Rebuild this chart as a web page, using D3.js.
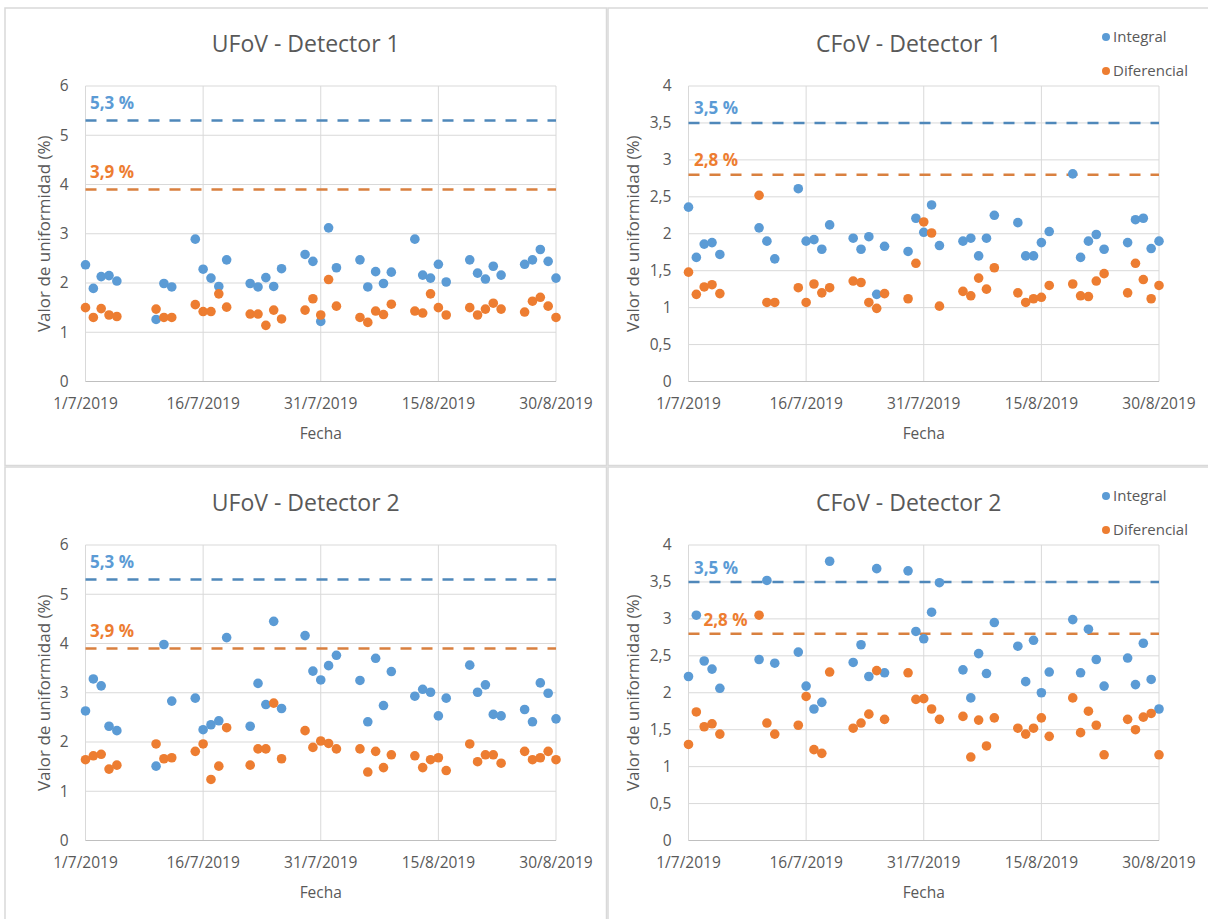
<!DOCTYPE html>
<html>
<head>
<meta charset="utf-8">
<script src="https://cdn.jsdelivr.net/npm/d3@7"></script>
<style>
    body { margin: 0; background: #fff; }
    svg { display: block; font-family: "Open Sans", sans-serif; }
    .chart-title { font-size: 23px; fill: #595959; }
    .tick-label { font-size: 15.5px; fill: #595959; }
    .axis-label { font-size: 15.5px; fill: #595959; }
    .y-label { font-size: 17px; }
    .legend-label { font-size: 15px; fill: #595959; }
    .limit-label { font-size: 17px; font-weight: 700; }
</style>
</head>
<body>
<svg id="chart" width="1208" height="919"></svg>
<script>
// ======================
// DATA
// ======================

const measureDates = [
    "1/7/2019", "2/7/2019", "3/7/2019", "4/7/2019", "5/7/2019",
    "10/7/2019", "11/7/2019", "12/7/2019",
    "15/7/2019", "16/7/2019", "17/7/2019", "18/7/2019", "19/7/2019",
    "22/7/2019", "23/7/2019", "24/7/2019", "25/7/2019", "26/7/2019",
    "29/7/2019", "30/7/2019", "31/7/2019", "1/8/2019", "2/8/2019",
    "5/8/2019", "6/8/2019", "7/8/2019", "8/8/2019", "9/8/2019",
    "12/8/2019", "13/8/2019", "14/8/2019", "15/8/2019", "16/8/2019",
    "19/8/2019", "20/8/2019", "21/8/2019", "22/8/2019", "23/8/2019",
    "26/8/2019", "27/8/2019", "28/8/2019", "29/8/2019", "30/8/2019"
];

const dateTicks = ["1/7/2019", "16/7/2019", "31/7/2019", "15/8/2019", "30/8/2019"];

const seriesNames = ["Integral", "Diferencial"];

// UFoV limits: integral, diferencial
const ufovLimits = [5.3, 3.9];
// CFoV limits: integral, diferencial
const cfovLimits = [3.5, 2.8];

const ufovD1Integral = [
    2.37, 1.89, 2.13, 2.15, 2.04,
    1.26, 1.99, 1.92,
    2.89, 2.28, 2.10, 1.93, 2.47,
    1.99, 1.92, 2.11, 1.93, 2.29,
    2.58, 2.44, 1.22, 3.12, 2.31,
    2.47, 1.92, 2.23, 1.99, 2.22,
    2.89, 2.16, 2.10, 2.38, 2.02,
    2.47, 2.20, 2.08, 2.34, 2.16,
    2.38, 2.47, 2.68, 2.44, 2.10
];
const ufovD1Diferencial = [
    1.50, 1.30, 1.48, 1.35, 1.32,
    1.47, 1.30, 1.30,
    1.56, 1.42, 1.42, 1.78, 1.51,
    1.37, 1.37, 1.14, 1.45, 1.27,
    1.45, 1.68, 1.35, 2.07, 1.53,
    1.30, 1.20, 1.43, 1.36, 1.57,
    1.43, 1.39, 1.78, 1.50, 1.35,
    1.50, 1.35, 1.47, 1.59, 1.47,
    1.41, 1.63, 1.71, 1.53, 1.30
];

const cfovD1Integral = [
    2.36, 1.68, 1.86, 1.88, 1.72,
    2.08, 1.90, 1.66,
    2.61, 1.90, 1.92, 1.79, 2.12,
    1.94, 1.79, 1.96, 1.18, 1.83,
    1.76, 2.21, 2.02, 2.39, 1.84,
    1.90, 1.94, 1.70, 1.94, 2.25,
    2.15, 1.70, 1.70, 1.88, 2.03,
    2.81, 1.68, 1.90, 1.99, 1.79,
    1.88, 2.19, 2.21, 1.80, 1.90
];
const cfovD1Diferencial = [
    1.48, 1.18, 1.28, 1.31, 1.19,
    2.52, 1.07, 1.07,
    1.27, 1.07, 1.32, 1.20, 1.27,
    1.36, 1.34, 1.07, 0.99, 1.19,
    1.12, 1.60, 2.16, 2.01, 1.02,
    1.22, 1.16, 1.40, 1.25, 1.54,
    1.20, 1.07, 1.12, 1.14, 1.30,
    1.32, 1.16, 1.15, 1.36, 1.46,
    1.20, 1.60, 1.38, 1.12, 1.30
];

const ufovD2Integral = [
    2.63, 3.28, 3.14, 2.32, 2.23,
    1.51, 3.98, 2.83,
    2.89, 2.25, 2.35, 2.43, 4.12,
    2.32, 3.19, 2.76, 4.45, 2.68,
    4.16, 3.44, 3.26, 3.55, 3.76,
    3.25, 2.41, 3.70, 2.74, 3.43,
    2.93, 3.07, 3.01, 2.53, 2.89,
    3.56, 3.01, 3.16, 2.56, 2.53,
    2.66, 2.41, 3.20, 2.99, 2.47
];
const ufovD2Diferencial = [
    1.64, 1.72, 1.75, 1.45, 1.53,
    1.96, 1.66, 1.68,
    1.81, 1.96, 1.24, 1.51, 2.29,
    1.53, 1.86, 1.86, 2.79, 1.66,
    2.23, 1.89, 2.02, 1.97, 1.86,
    1.86, 1.39, 1.81, 1.48, 1.74,
    1.72, 1.48, 1.64, 1.68, 1.42,
    1.96, 1.60, 1.74, 1.74, 1.57,
    1.81, 1.64, 1.68, 1.81, 1.64
];

const cfovD2Integral = [
    2.22, 3.05, 2.43, 2.32, 2.06,
    2.45, 3.52, 2.40,
    2.55, 2.09, 1.78, 1.87, 3.78,
    2.41, 2.65, 2.22, 3.68, 2.27,
    3.65, 2.83, 2.73, 3.09, 3.49,
    2.31, 1.93, 2.53, 2.26, 2.95,
    2.63, 2.15, 2.71, 2.00, 2.28,
    2.99, 2.27, 2.86, 2.45, 2.09,
    2.47, 2.11, 2.67, 2.18, 1.78
];
const cfovD2Diferencial = [
    1.30, 1.74, 1.54, 1.58, 1.44,
    3.05, 1.59, 1.44,
    1.56, 1.95, 1.23, 1.18, 2.28,
    1.52, 1.59, 1.71, 2.30, 1.64,
    2.27, 1.91, 1.92, 1.78, 1.64,
    1.68, 1.13, 1.63, 1.28, 1.66,
    1.52, 1.44, 1.52, 1.66, 1.41,
    1.93, 1.46, 1.75, 1.56, 1.16,
    1.64, 1.50, 1.67, 1.72, 1.16
];

// ======================
// SETUP
// ======================

const colors = ["#5B9BD5", "#ED7D31"];
const limitColors = ["#4f88ba", "#d9803f"];

const parseDate = d3.utcParse("%d/%m/%Y");
const formatDate = d3.utcFormat("%-d/%-m/%Y");
const formatValue = v => String(v).replace(".", ",");

const svg = d3.select("#chart");

// chart boxes, plot area offsets inside each box
const plotMargin = { left: 80.5, right: 50.5, top: 78, bottom: 84 };
const boxW = 601.5;
const boxH = 457.5;

const panels = [
    { title: "UFoV - Detector 1", x0: 5, y0: 8, yMax: 6, yStep: 1,
      values: [ufovD1Integral, ufovD1Diferencial], limits: ufovLimits,
      labelDx: [4.5, 4.5], labelDy: -11.5, yTitleDx: -41, legend: false },
    { title: "CFoV - Detector 1", x0: 608, y0: 8, yMax: 4, yStep: 0.5,
      values: [cfovD1Integral, cfovD1Diferencial], limits: cfovLimits,
      labelDx: [5.5, 5.5], labelDy: -8.5, yTitleDx: -55, legend: true },
    { title: "UFoV - Detector 2", x0: 5, y0: 467, yMax: 6, yStep: 1,
      values: [ufovD2Integral, ufovD2Diferencial], limits: ufovLimits,
      labelDx: [4.5, 4.5], labelDy: -11.5, yTitleDx: -41, legend: false },
    { title: "CFoV - Detector 2", x0: 608, y0: 467, yMax: 4, yStep: 0.5,
      values: [cfovD2Integral, cfovD2Diferencial], limits: cfovLimits,
      labelDx: [5.5, 15], labelDy: -7.5, yTitleDx: -55, legend: true }
];

// ======================
// DRAW PANELS
// ======================

panels.forEach(p => {
    const g = svg.append("g")
        .attr("transform", `translate(${p.x0},${p.y0})`);

    // chart border
    g.append("rect")
        .attr("x", 0)
        .attr("y", 0)
        .attr("width", boxW)
        .attr("height", boxH)
        .attr("fill", "#fff")
        .attr("stroke", "#d9d9d9")
        .attr("stroke-width", 1.5);

    g.append("text")
        .attr("class", "chart-title")
        .attr("x", boxW / 2)
        .attr("y", 43.5)
        .attr("text-anchor", "middle")
        .text(p.title);

    const innerW = boxW - plotMargin.left - plotMargin.right;
    const innerH = boxH - plotMargin.top - plotMargin.bottom;

    const plot = g.append("g")
        .attr("transform", `translate(${plotMargin.left},${plotMargin.top})`);

    const x = d3.scaleUtc()
        .domain([parseDate(dateTicks[0]), parseDate(dateTicks[dateTicks.length - 1])])
        .range([0, innerW]);

    const y = d3.scaleLinear()
        .domain([0, p.yMax])
        .range([innerH, 0]);

    const yTicks = d3.range(0, p.yMax + p.yStep / 2, p.yStep);
    const xTicks = dateTicks.map(parseDate);

    // gridlines
    plot.append("g")
        .selectAll("line")
        .data(yTicks.slice(1))
        .join("line")
        .attr("x1", 0)
        .attr("x2", innerW)
        .attr("y1", d => y(d))
        .attr("y2", d => y(d))
        .attr("stroke", "#d9d9d9")
        .attr("stroke-width", 1);

    plot.append("g")
        .selectAll("line")
        .data(xTicks)
        .join("line")
        .attr("x1", d => x(d))
        .attr("x2", d => x(d))
        .attr("y1", 0)
        .attr("y2", innerH)
        .attr("stroke", "#d9d9d9")
        .attr("stroke-width", 1);

    // x axis line
    plot.append("line")
        .attr("x1", 0)
        .attr("x2", innerW)
        .attr("y1", innerH)
        .attr("y2", innerH)
        .attr("stroke", "#bfbfbf")
        .attr("stroke-width", 1);

    // tick labels
    plot.append("g")
        .selectAll("text")
        .data(yTicks)
        .join("text")
        .attr("class", "tick-label")
        .attr("x", -17)
        .attr("y", d => y(d))
        .attr("dy", "0.35em")
        .attr("text-anchor", "end")
        .text(formatValue);

    plot.append("g")
        .selectAll("text")
        .data(xTicks)
        .join("text")
        .attr("class", "tick-label")
        .attr("x", d => x(d))
        .attr("y", innerH + 27)
        .attr("text-anchor", "middle")
        .text(formatDate);

    plot.append("text")
        .attr("class", "axis-label")
        .attr("x", innerW / 2)
        .attr("y", innerH + 57)
        .attr("text-anchor", "middle")
        .text("Fecha");

    plot.append("text")
        .attr("class", "axis-label y-label")
        .attr("transform", "rotate(-90)")
        .attr("x", -innerH / 2)
        .attr("y", p.yTitleDx)
        .attr("dy", "0.35em")
        .attr("text-anchor", "middle")
        .text("Valor de uniformidad (%)");

    // limit lines
    plot.append("g")
        .selectAll("line")
        .data(p.limits)
        .join("line")
        .attr("x1", 0)
        .attr("x2", innerW)
        .attr("y1", d => y(d))
        .attr("y2", d => y(d))
        .attr("stroke", (d, i) => limitColors[i])
        .attr("stroke-width", 2.5)
        .attr("stroke-dasharray", "11,10");

    plot.append("g")
        .selectAll("text")
        .data(p.limits)
        .join("text")
        .attr("class", "limit-label")
        .attr("x", (d, i) => p.labelDx[i])
        .attr("y", d => y(d) + p.labelDy)
        .attr("fill", (d, i) => colors[i])
        .text(d => formatValue(d) + " %");

    // points
    p.values.forEach((vals, si) => {
        plot.append("g")
            .selectAll("circle")
            .data(vals.map((v, i) => ({ date: parseDate(measureDates[i]), value: v })))
            .join("circle")
            .attr("cx", d => x(d.date))
            .attr("cy", d => y(d.value))
            .attr("r", 4.8)
            .attr("fill", colors[si]);
    });

    // legend
    if (p.legend) {
        const leg = g.append("g")
            .selectAll("g")
            .data(seriesNames)
            .join("g")
            .attr("transform", (d, i) => `translate(498,${29 + i * 34})`);
        leg.append("circle")
            .attr("r", 4)
            .attr("fill", (d, i) => colors[i]);
        leg.append("text")
            .attr("class", "legend-label")
            .attr("x", 7)
            .attr("dy", "0.35em")
            .text(d => d);
    }
});
</script>
</body>
</html>
